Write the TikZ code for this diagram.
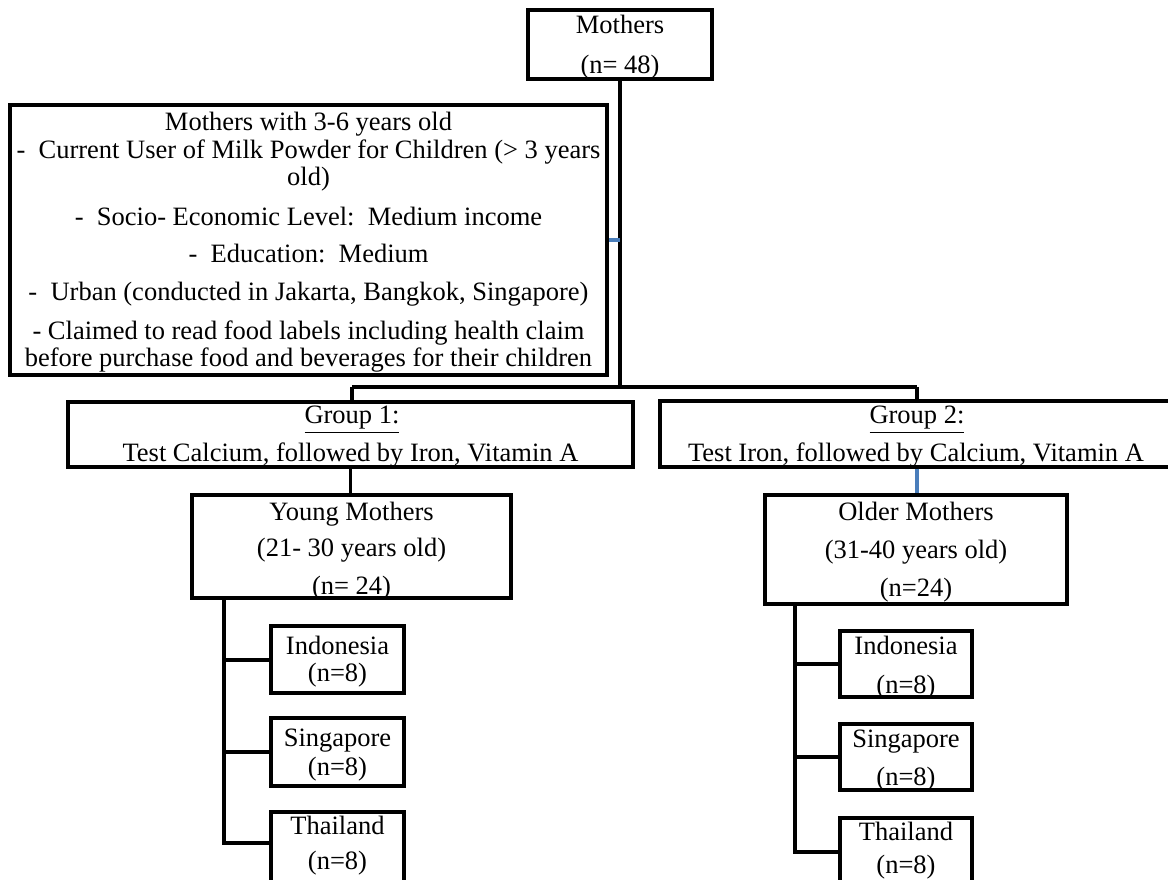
\documentclass[tikz,border=0pt]{standalone}
\usepackage{fontspec}
\setmainfont{Liberation Serif}
\definecolor{linkblue}{HTML}{4A7EBB}
\begin{document}
\begin{tikzpicture}[x=0.4528pt,y=-0.4528pt,
  frame/.style 2 args={draw=black, line width=1.8pt, inner sep=0pt,
    minimum width=#1*0.4528pt, minimum height=#2*0.4528pt},
  txt/.style={inner sep=0pt, font=\fontsize{12}{14}\selectfont,
    text height=9.8pt, text depth=2.2pt},
  link/.style={draw=black, line width=1.8pt},
  bluelink/.style={draw=linkblue, line width=1.5pt}]
\useasboundingbox (0,0) rectangle (1168,879);
\clip (0,0) rectangle (1168,879);

% boxes
\node[frame={184}{69}]  (mothers) at (620,44.5) {};
\node[frame={597}{270}] (crit)    at (308.5,240) {};
\node[frame={565}{65}]  (grp1)    at (350.5,434.5) {};
\node[frame={514}{66}]  (grp2)    at (917,434) {};
\node[frame={319}{103}] (young)   at (351.5,546.5) {};
\node[frame={302}{109}] (older)   at (916,549.5) {};
\node[frame={133}{67}]  (indL)    at (337.5,659.5) {};
\node[frame={133}{68}]  (sgL)     at (337.5,752) {};
\node[frame={133}{88}]  (thL)     at (337.5,856) {};
\node[frame={132}{66}]  (indR)    at (906,664) {};
\node[frame={132}{66}]  (sgR)     at (906,757) {};
\node[frame={132}{82}]  (thR)     at (906,859) {};

% texts
\node[txt] (tm1) at (620,25) {Mothers};
\node[txt] (tm2) at (620,65) {(n= 48)};

\node[txt] (tc1) at (308.5,122) {Mothers with 3-6 years old};
\node[txt] (tc2) at (308.5,150) {-\ \ Current User of Milk Powder for Children (> 3 years};
\node[txt] (tc3) at (308.5,177) {old)};
\node[txt] (tc4) at (308.5,217) {-\ \ Socio- Economic Level:\ \ Medium income};
\node[txt] (tc5) at (308.5,254) {-\ \ Education:\ \ Medium};
\node[txt] (tc6) at (308.5,292) {-\ \ Urban (conducted in Jakarta, Bangkok, Singapore)};
\node[txt] (tc7) at (308.5,331) {- Claimed to read food labels including health claim};
\node[txt] (tc8) at (308.5,358) {before purchase food and beverages for their children};

\node[txt] (tg11) at (352,415) {\underline{Group 1:}};
\node[txt] (tg12) at (350.5,453) {Test Calcium, followed by Iron, Vitamin A};
\node[txt] (tg21) at (917,415) {\underline{Group 2:}};
\node[txt] (tg22) at (916,453) {Test Iron, followed by Calcium, Vitamin A};

\node[txt] (ty1) at (351.5,512) {Young Mothers};
\node[txt] (ty2) at (351.5,548) {(21- 30 years old)};
\node[txt] (ty3) at (351.5,586) {(n= 24)};
\node[txt] (to1) at (916,512) {Older Mothers};
\node[txt] (to2) at (916,550) {(31-40 years old)};
\node[txt] (to3) at (916,588) {(n=24)};

\node[txt] (til1) at (337.5,646) {Indonesia};
\node[txt] (til2) at (337.5,673) {(n=8)};
\node[txt] (tsl1) at (337.5,738) {Singapore};
\node[txt] (tsl2) at (337.5,767) {(n=8)};
\node[txt] (ttl1) at (337.5,826) {Thailand};
\node[txt] (ttl2) at (337.5,861) {(n=8)};

\node[txt] (tir1) at (906,646) {Indonesia};
\node[txt] (tir2) at (906,685) {(n=8)};
\node[txt] (tsr1) at (906,739) {Singapore};
\node[txt] (tsr2) at (906,777) {(n=8)};
\node[txt] (ttr1) at (906,832) {Thailand};
\node[txt] (ttr2) at (906,865) {(n=8)};

% junction points
\coordinate (hub)  at (620,387);
\coordinate (g1j)  at (352,387);
\coordinate (g2j)  at (917,387);
\coordinate (spL)  at (224,598);
\coordinate (spR)  at (795,604);
\coordinate (thLj) at (271,843);
\coordinate (thRj) at (840,852);

% connectors
\draw[link] (mothers.south) -- (hub);
\draw[link] (g1j) -- (g2j);
\draw[link] (g1j) -- (g1j |- grp1.north);
\draw[link] (g2j) -- (g2j |- grp2.north);
\draw[bluelink] (crit.east) -- (crit.east -| hub);
\draw[link] (grp1.south) -- (grp1.south |- young.north);
\draw[bluelink] (grp2.south) -- (grp2.south |- older.north);

\draw[link] (spL) -- (spL |- thLj) -- (thLj);
\draw[link] (spL |- indL.west) -- (indL.west);
\draw[link] (spL |- sgL.west) -- (sgL.west);

\draw[link] (spR) -- (spR |- thRj) -- (thRj);
\draw[link] (spR |- indR.west) -- (indR.west);
\draw[link] (spR |- sgR.west) -- (sgR.west);
\end{tikzpicture}
\end{document}
